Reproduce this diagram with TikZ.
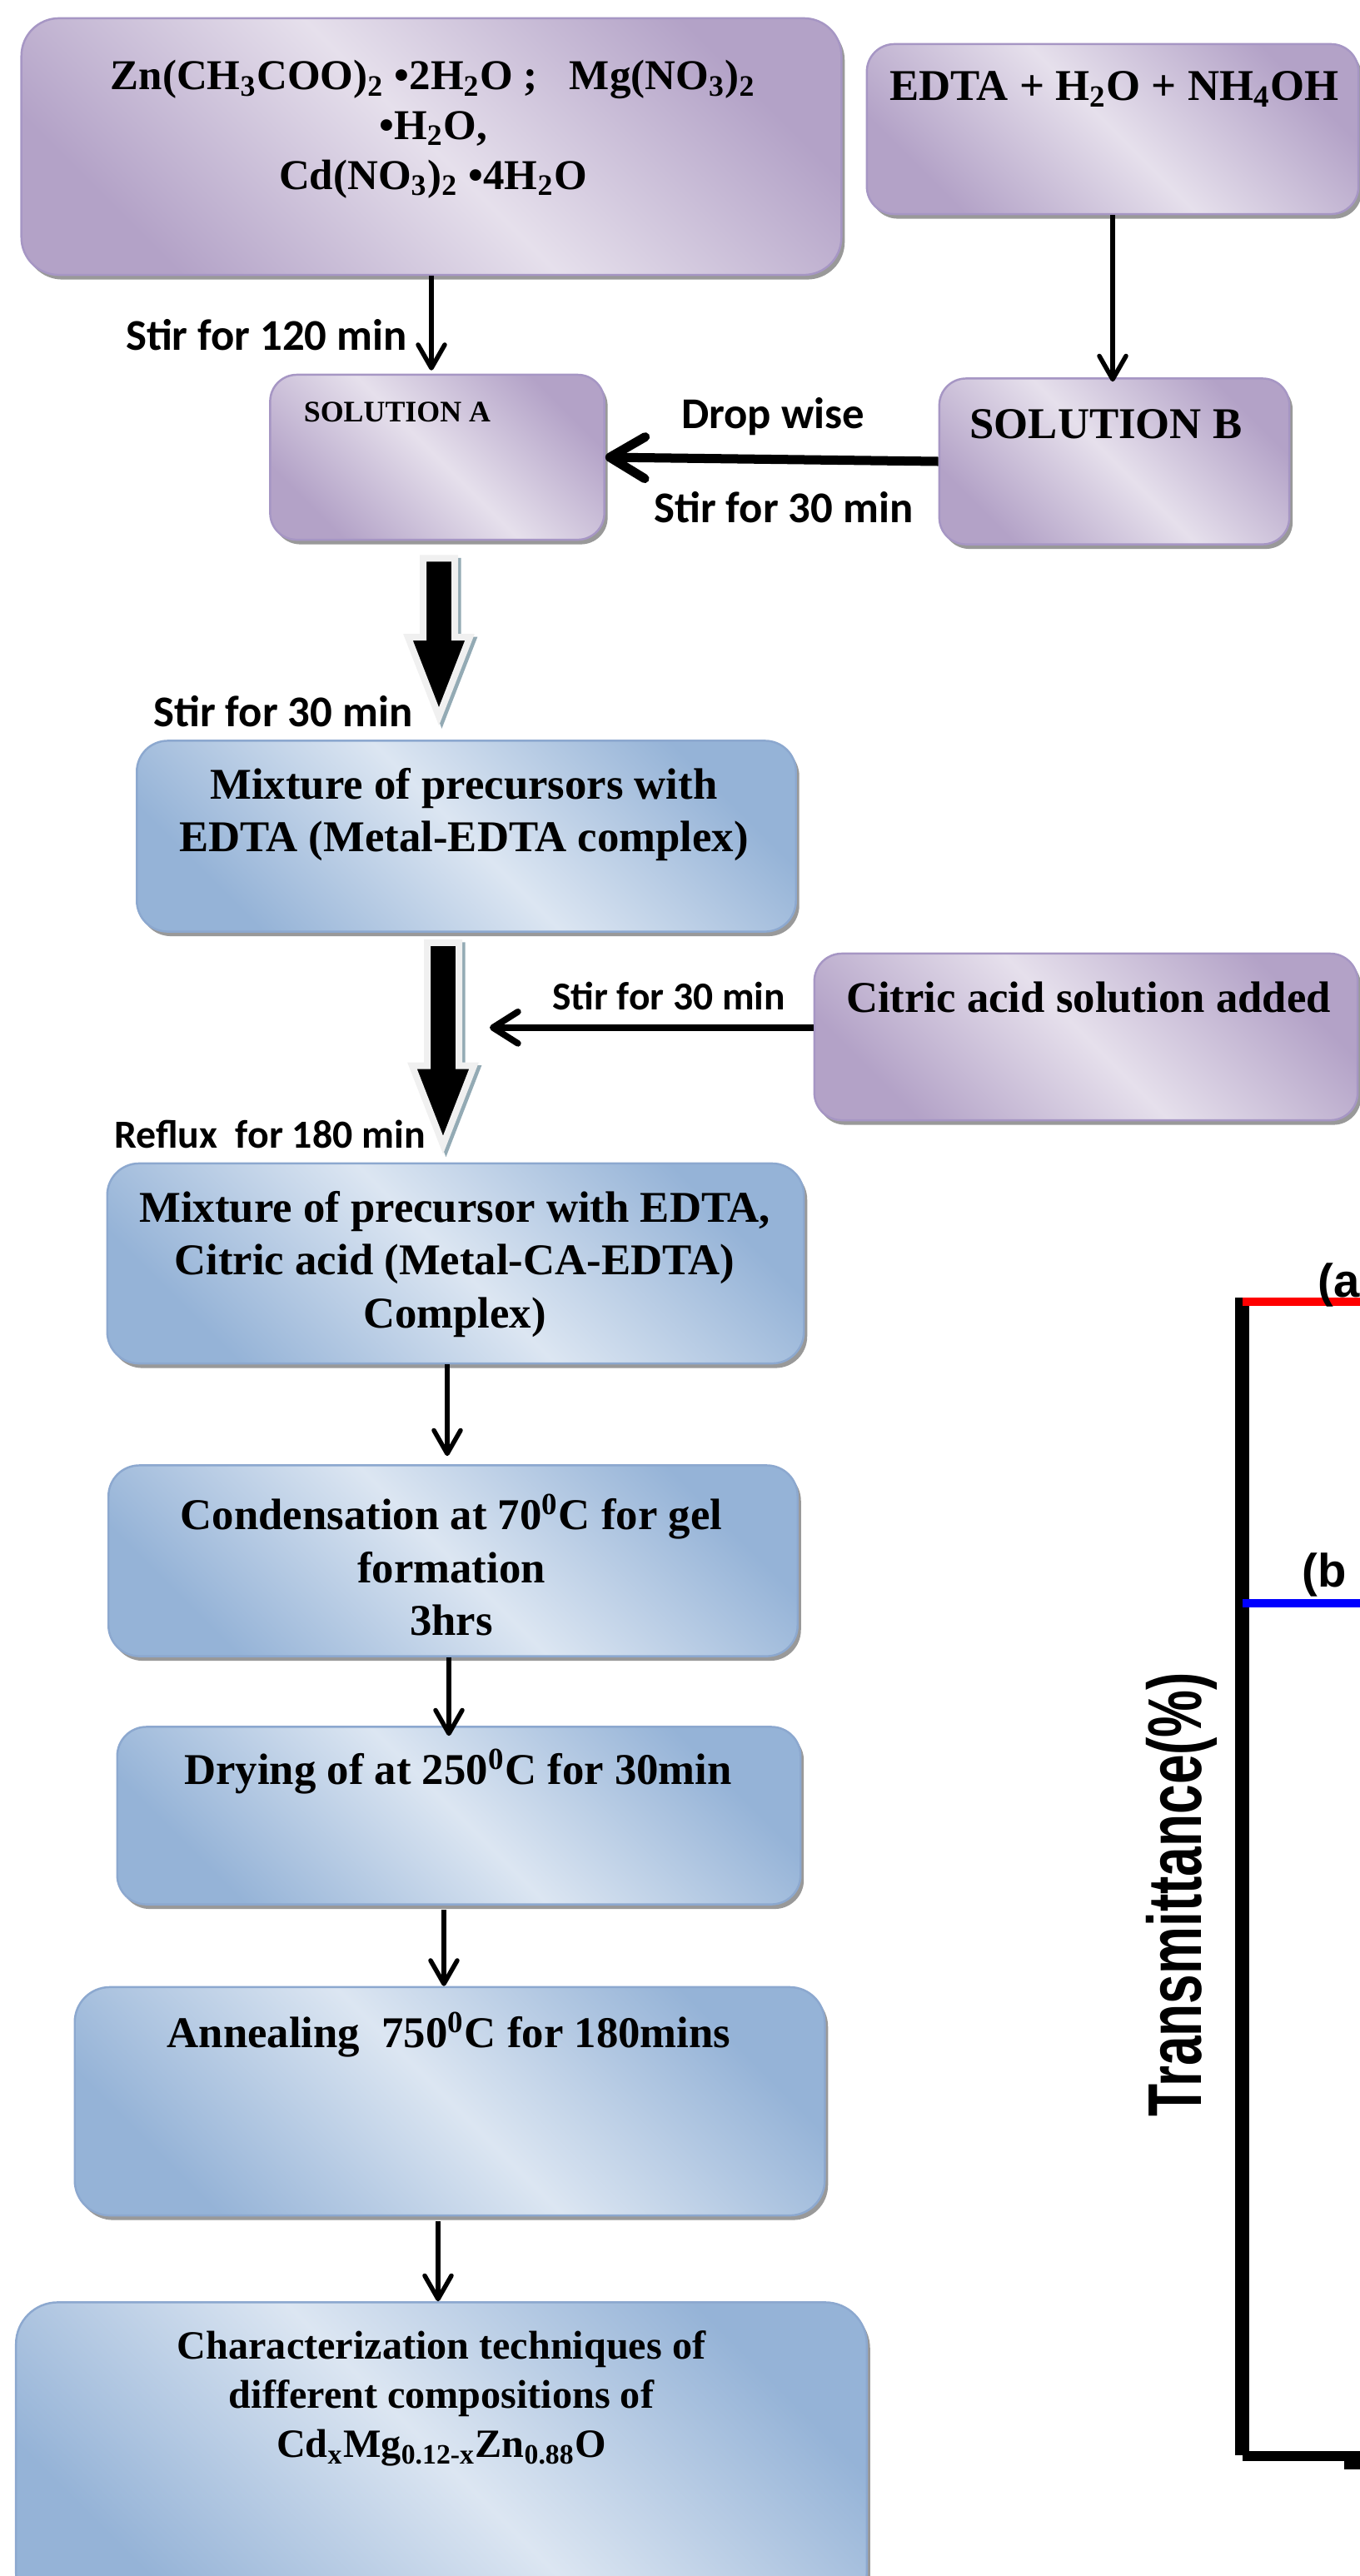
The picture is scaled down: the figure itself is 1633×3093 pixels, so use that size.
\documentclass[tikz,border=0pt]{standalone}
\usepackage{fontspec}
\setmainfont{Liberation Serif}
\newfontfamily\calfont{Carlito}
\newfontfamily\arialfont{Liberation Sans}
\usepackage{xcolor}
\usepackage{tikz}
\usetikzlibrary{arrows.meta,calc,shadows}
\definecolor{pdark}{HTML}{B3A2C7}
\definecolor{plight}{HTML}{E6E0EC}
\definecolor{pline}{HTML}{A696C4}
\definecolor{bdark}{HTML}{95B3D7}
\definecolor{blight}{HTML}{DCE6F2}
\definecolor{bline}{HTML}{8CA8CF}
\definecolor{rimgray}{HTML}{F0F0F0}
\definecolor{tealsh}{HTML}{93AAB4}
% block arrow from (#1) down to tip (#2)
\newcommand{\blockarr}[2]{%
  \path[barrsh] ($(#1)+(-19,0)$) -- ($(#1)+(19,0)$) -- ($(#2)+(19,-95)$) -- ($(#2)+(37,-95)$)
    -- (#2) -- ($(#2)+(-37,-95)$) -- ($(#2)+(-19,-95)$) -- cycle;
  \path[barr] ($(#1)+(-19,0)$) -- ($(#1)+(19,0)$) -- ($(#2)+(19,-95)$) -- ($(#2)+(37,-95)$)
    -- (#2) -- ($(#2)+(-37,-95)$) -- ($(#2)+(-19,-95)$) -- cycle;}

\begin{document}
\begin{tikzpicture}[
  x=0.01cm,y=-0.01cm,
  box/.style={draw,line width=0.7pt,
              drop shadow={shadow xshift=0.04cm,shadow yshift=-0.055cm,fill=black!40,opacity=1}},
  pbox/.style={box,draw=pline,top color=pdark,bottom color=pdark,middle color=plight,shading angle=-45},
  bbox/.style={box,draw=bline,top color=bdark,bottom color=bdark,middle color=blight,shading angle=-45},
  tx/.style={font=\fontsize{15}{18}\selectfont\bfseries,align=center,inner sep=0pt},
  lab/.style={font=\calfont\fontsize{15}{18}\selectfont\bfseries,inner sep=0pt},
  ax/.style={font=\arialfont\fontsize{16}{19}\selectfont\bfseries,inner sep=0pt},
  thinarr/.style={-{Straight Barb[length=0.28cm,width=0.32cm,round]},line width=0.055cm},
  midarr/.style={-{Straight Barb[length=0.3cm,width=0.38cm,round]},line width=0.077cm},
  fatarr/.style={-{Straight Barb[length=0.42cm,width=0.5cm,round]},line width=0.11cm},
  barr/.style={fill=black,draw=rimgray,line width=0.08cm},
  barrsh/.style={fill=tealsh,draw=tealsh,line width=0.08cm,
                 transform canvas={shift={(0.035cm,-0.035cm)}}}]

\path[use as bounding box] (0,0) rectangle (1633,3093);
\clip (0,0) rectangle (1633,3093);

% ================= Top: solutions A and B =================
\node[pbox,minimum width=9.84cm,minimum height=3.08cm,rounded corners=0.45cm] (prec) at (518,176){};
\node[tx,font=\fontsize{14.5}{17}\selectfont\bfseries] (prect) at (520,155)
  {Zn(CH\textsubscript{3}COO)\textsubscript{2} •2H\textsubscript{2}O ;\ \ \ Mg(NO\textsubscript{3})\textsubscript{2}\\
   •H\textsubscript{2}O,\\ Cd(NO\textsubscript{3})\textsubscript{2} •4H\textsubscript{2}O};
\node[pbox,minimum width=5.90cm,minimum height=2.04cm,rounded corners=0.33cm] (edta) at (1336,155){};
\node[tx] (edtat) at (1338,107){EDTA + H\textsubscript{2}O + NH\textsubscript{4}OH};

\node[pbox,minimum width=4.01cm,minimum height=1.98cm,rounded corners=0.32cm] (solA) at (525,549){};
\node[tx,font=\fontsize{10.2}{12}\selectfont\bfseries] (solAt) at (477,495){SOLUTION A};
\node[pbox,minimum width=4.20cm,minimum height=1.99cm,rounded corners=0.32cm] (solB) at (1338,554){};
\node[tx] (solBt) at (1328,509){SOLUTION B};

\draw[thinarr] (prec.south) -- ([yshift=0.04cm]prec.south |- solA.north);
\node[lab] (s120) at (320,402){Stir for 120 min};
\draw[thinarr] (edta.south) -- ([yshift=-0.05cm]edta.south |- solB.north);
\draw[fatarr] (solB.west) -- (solA.east);
\node[lab] (drop) at (928,500){Drop wise};
\node[lab] (s30b) at (941,609){Stir for 30 min};

% ================= Metal-EDTA complex =================
\node[bbox,minimum width=7.91cm,minimum height=2.29cm,rounded corners=0.37cm] (mix1) at (560,1004){};
\node[tx] (mix1t) at (557,978){Mixture of precursors with\\ EDTA (Metal-EDTA complex)};
\coordinate (a1s) at ($(solA.south)+(2,21)$);
\coordinate (a1t) at ($(a1s |- mix1.north)+(0,-28)$);
\blockarr{a1s}{a1t}
\node[lab] (s30a) at (340,854){Stir for 30 min};

% ================= citric acid =================
\node[pbox,minimum width=6.52cm,minimum height=2.00cm,rounded corners=0.33cm] (citric) at (1304,1245){};
\node[tx] (citrict) at (1307,1198){Citric acid solution added};
\node[bbox,minimum width=8.36cm,minimum height=2.40cm,rounded corners=0.38cm] (mix2) at (547,1517){};
\node[tx] (mix2t) at (546,1518){Mixture of precursor with EDTA,\\ Citric acid (Metal-CA-EDTA)\\ Complex)};
\coordinate (a2s) at ($(mix1.south -| 532,0)+(0,12)$);
\coordinate (a2t) at ($(a2s |- mix2.north)+(0,-21)$);
\blockarr{a2s}{a2t}
\coordinate (cj) at ($(a2s)!0.42!(a2t)+(56,0)$);
\draw[midarr] (citric.west |- cj) -- (cj);
\node[lab,font=\calfont\fontsize{13.5}{16}\selectfont\bfseries] (s30c) at (803,1196){Stir for 30 min};
\node[lab,font=\calfont\fontsize{13.6}{16}\selectfont\bfseries] (reflux) at (324,1362){Reflux\ \ for 180 min};

% ================= gel, drying, annealing =================
\node[bbox,minimum width=8.27cm,minimum height=2.29cm,rounded corners=0.37cm] (cond) at (544,1874){};
\node[tx] (condt) at (542,1879){Condensation at 70\textsuperscript{0}C for gel\\ formation\\ 3hrs};
\node[bbox,minimum width=8.20cm,minimum height=2.13cm,rounded corners=0.35cm] (dry) at (551,2180){};
\node[tx] (dryt) at (550,2127){Drying of at 250\textsuperscript{0}C for 30min};
\node[bbox,minimum width=9.00cm,minimum height=2.74cm,rounded corners=0.42cm] (ann) at (540,2523){};
\node[tx] (annt) at (539,2443){Annealing\ \ 750\textsuperscript{0}C for 180mins};
\node[bbox,minimum width=10.21cm,minimum height=3.75cm,rounded corners=0.5cm] (char) at (530,2952){};
\node[tx,font=\fontsize{13.7}{16.8}\selectfont\bfseries] (chart) at (530,2880)
  {Characterization techniques of\\ different compositions of\\
   Cd\textsubscript{x}Mg\textsubscript{0.12-x}Zn\textsubscript{0.88}O};

\draw[thinarr] ([xshift=-0.1cm]mix2.south) -- ([xshift=-0.1cm,yshift=0.1cm]mix2.south |- cond.north);
\draw[thinarr] ([xshift=-0.05cm]cond.south) -- ([xshift=-0.05cm,yshift=-0.12cm]cond.south |- dry.north);
\draw[thinarr] ([xshift=-0.18cm,yshift=-0.05cm]dry.south) -- ([xshift=-0.18cm]dry.south |- ann.north);
\draw[thinarr] ([xshift=-0.14cm,yshift=-0.06cm]ann.south) -- ([xshift=-0.14cm]ann.south |- char.north);

% ================= spectrum fragment (right) =================
\fill (1483,1558) rectangle (1500,2948);
\fill (1492,2943) rectangle (1640,2955);
\fill (1614,2955) rectangle (1640,2965);
\fill[red] (1492,1558) rectangle (1640,1568);
\fill[blue] (1492,1920) rectangle (1640,1930);
\node[ax,anchor=base west] (la) at (1582,1557){(a};
\node[ax,anchor=base west] (lb) at (1563,1905){(b};
\node[font=\arialfont\fontsize{26}{30}\selectfont\bfseries,inner sep=0pt,rotate=90,anchor=base west]
  (ylab) at (1442,2542){\scalebox{0.70}[1]{Transmittance(\%)}};
\end{tikzpicture}
\end{document}
